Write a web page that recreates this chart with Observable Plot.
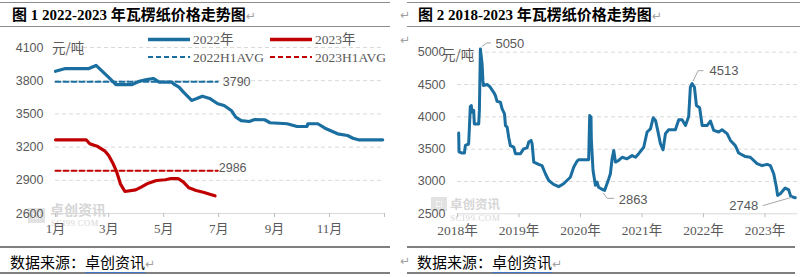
<!DOCTYPE html>
<html><head><meta charset="utf-8">
<script src="https://cdn.jsdelivr.net/npm/d3@7"></script>
<script src="https://cdn.jsdelivr.net/npm/@observablehq/plot@0.6"></script>
<style>
html,body{margin:0;padding:0;background:#fff;}
#page{position:relative;width:800px;height:277px;overflow:hidden;font-family:"Liberation Serif","Noto Sans CJK SC",serif;color:#595959;}
.a{position:absolute;white-space:nowrap;line-height:1;}
.hr{position:absolute;height:0;}
.title{font-size:15px;font-weight:bold;color:#000;}
.foot{font-size:15px;color:#000;font-family:"Noto Sans CJK SC",sans-serif;}
.foot u{text-decoration:none;border-bottom:1px solid #4472c4;}
.pm{color:#a0a0a0;font-size:12px;font-weight:normal;font-family:"DejaVu Sans",sans-serif;}
.unit{font-size:13.5px;color:#595959;font-family:"Noto Sans CJK SC",sans-serif;}
.wm{color:#d6d6d6;font-family:"Noto Sans CJK SC",sans-serif;font-weight:bold;}
.wms{color:#d6d6d6;font-family:"Liberation Serif",serif;letter-spacing:0.5px;}
.icon{position:absolute;background:#e2e2e2;}
.icon i{position:absolute;left:30%;top:30%;width:40%;height:40%;border:1px dotted #fff;box-sizing:border-box;}
svg{position:absolute;}
</style></head><body><div id="page"></div>
<script>
// ---------------- DATA ----------------
// Figure 1: 2022 vs 2023 (month-day)
const dates22 = ["01-01","01-12","02-07","02-15","03-01","03-09","03-27","04-04","04-12","04-18","04-20","04-26","05-10","05-12","05-18","05-23","06-01","06-06","06-13","06-21","06-30","07-07","07-15","07-20","07-26","08-04","08-10","08-21","08-27","09-15","09-26","10-07","10-08","10-19","10-27","11-10","11-21","11-27","12-03","12-30"];
const values22 = [3885,3910,3910,3938,3830,3765,3765,3795,3810,3818,3818,3788,3788,3772,3742,3697,3622,3636,3660,3640,3592,3576,3531,3470,3440,3431,3449,3447,3420,3411,3386,3386,3411,3411,3371,3320,3305,3280,3266,3266];
const dates23 = ["01-01","02-04","02-08","02-17","02-25","03-01","03-06","03-10","03-14","03-19","03-31","04-06","04-14","04-23","05-03","05-09","05-17","05-23","05-29","06-06","06-14","06-22","06-27"];
const values23 = [3266,3266,3230,3205,3163,3124,3049,2973,2868,2799,2814,2838,2874,2898,2905,2916,2916,2883,2832,2808,2792,2772,2760];
const avgNames = ["2022H1AVG","2023H1AVG"];
const avgValues = [3790, 2986];
const avgSpan = ["01-01","06-30"];
const seriesNames = ["2022年","2023年"];
const yTicksL = [2600,2900,3200,3500,3800,4100];
const monthTicks = ["01-01","03-01","05-01","07-01","09-01","11-01"];
const monthLabels = ["1月","3月","5月","7月","9月","11月"];

// Figure 2: 2018-2023
const dates18 = [
"2018-01-08","2018-01-10","2018-01-28","2018-02-11","2018-02-17","2018-03-08","2018-03-12","2018-03-18","2018-03-24","2018-03-28","2018-04-07","2018-04-11","2018-05-07","2018-05-11","2018-05-17","2018-05-27","2018-06-01","2018-06-04","2018-06-26","2018-07-11","2018-08-04","2018-08-14","2018-08-24","2018-09-13","2018-09-23","2018-10-07","2018-10-13","2018-10-23","2018-11-01","2018-11-11","2018-12-01","2018-12-11",
"2019-01-10","2019-01-29","2019-02-18","2019-02-28","2019-03-14","2019-03-20","2019-03-30","2019-04-28","2019-05-18","2019-06-07","2019-06-27","2019-07-26","2019-08-25","2019-09-23","2019-10-13","2019-11-02","2019-11-22","2019-12-12","2019-12-21",
"2020-02-19","2020-02-25","2020-03-04","2020-03-06","2020-03-16","2020-03-30","2020-04-09","2020-04-18","2020-05-08","2020-05-24","2020-06-17","2020-06-27","2020-07-07","2020-07-17","2020-07-27","2020-08-15","2020-09-05","2020-10-04","2020-11-03","2020-11-23","2020-12-12",
"2021-01-11","2021-01-31","2021-02-20","2021-03-08","2021-03-22","2021-04-04","2021-04-20","2021-05-06","2021-05-20","2021-06-08","2021-07-18","2021-08-07","2021-08-27","2021-09-16","2021-10-05","2021-10-15","2021-10-25","2021-11-08","2021-11-20","2021-12-09","2021-12-24",
"2022-01-22","2022-02-11","2022-03-03","2022-04-01","2022-04-21","2022-05-21","2022-06-10","2022-07-09","2022-07-29","2022-09-07","2022-10-06","2022-11-15","2022-12-15",
"2023-01-14","2023-02-02","2023-02-22","2023-03-10","2023-03-17","2023-04-02","2023-05-01","2023-05-22","2023-06-03","2023-06-30"];
const values18 = [3750,3460,3440,3440,3560,3580,3790,4160,4175,4070,4100,3890,3890,4100,5050,4820,4560,4485,4500,4470,4380,4330,4240,4225,4125,4045,3865,3840,3685,3555,3530,3430,
3430,3505,3520,3610,3635,3585,3300,3265,3245,3120,3015,2955,2920,2965,3015,3065,3220,3315,3335,
3335,4020,3995,3635,3170,2940,2990,2910,2880,2863,3040,3120,3350,3480,3300,3325,3375,3350,3400,3375,3430,
3530,3765,3815,3985,3945,3790,3585,3490,3740,3800,3800,3955,3955,3865,4005,4460,4513,4460,4175,4140,3865,
3865,3935,3790,3765,3800,3740,3635,3555,3440,3385,3375,3275,3245,
3265,3245,3120,2910,2785,2810,2900,2870,2770,2748];
const annoLabels = [5050, 4513, 2863, 2748];
const yTicksR = [2500,3000,3500,4000,4500,5000];
const yearTicks = ["2018-01-01","2019-01-01","2020-01-01","2021-01-01","2022-01-01","2023-01-01"];
const yearLabels = ["2018年","2019年","2020年","2021年","2022年","2023年"];
const xDomainR = ["2018-01-01","2023-07-15"];

// ---------------- STYLE ----------------
const SERIF = '"Liberation Serif","Noto Sans CJK SC",serif';
const SANS = '"Liberation Sans","Noto Sans CJK SC",sans-serif';
const BLUE = "#1b6fa0", RED = "#c00000", GRID = "#d9d9d9", TXT = "#595959";
const num = d => String(d);

const page = document.getElementById("page");
function addDiv(cls, html, css){const d=document.createElement("div");d.className=cls;d.innerHTML=html;Object.assign(d.style,css);page.appendChild(d);return d;}

// rules
[[0,390],[407,800]].forEach(([x0,x1])=>{
  addDiv("hr","",{left:x0+"px",width:(x1-x0)+"px",top:"2px",borderTop:"1.5px solid #8c8c8c"});
  addDiv("hr","",{left:x0+"px",width:(x1-x0)+"px",top:"26px",borderTop:"1.5px solid #8c8c8c"});
  addDiv("hr","",{left:x0+"px",width:(Math.min(x1,795)-x0)+"px",top:"246px",borderTop:"2px solid #7f7f7f"});
  addDiv("hr","",{left:x0+"px",width:(Math.min(x1,795)-x0)+"px",top:"272px",borderTop:"2px solid #7f7f7f"});
});
// titles & footers
addDiv("a title","图 1 2022-2023 年瓦楞纸价格走势图<span class='pm'>↵</span>",{left:"12px",top:"8px"});
addDiv("a title","图 2 2018-2023 年瓦楞纸价格走势图<span class='pm'>↵</span>",{left:"418px",top:"8px"});
addDiv("a foot","数据来源：<u>卓创资讯</u><span class='pm'>↵</span>",{left:"10px",top:"254px"});
addDiv("a foot","数据来源：<u>卓创资讯</u><span class='pm'>↵</span>",{left:"417px",top:"254px"});
addDiv("a pm","↵",{left:"400px",top:"9px"});
addDiv("a pm","↵",{left:"400px",top:"34px"});
addDiv("a pm","↵",{left:"400px",top:"255px"});
// watermarks (behind charts)
addDiv("icon","<i></i>",{left:"28px",top:"208px",width:"17px",height:"15px"});
addDiv("a wm","卓创资讯",{left:"50px",top:"202px",fontSize:"14px"});
addDiv("a wms","SCI99.COM",{left:"51px",top:"219px",fontSize:"8.5px"});
addDiv("icon","<i></i>",{left:"431px",top:"197px",width:"16px",height:"14px"});
addDiv("a wm","卓创资讯",{left:"450px",top:"198px",fontSize:"12.5px"});
addDiv("a wms","SCI99.COM",{left:"450px",top:"214px",fontSize:"9px"});

// ---------------- LEFT CHART ----------------
const parseD = d3.utcParse("%Y-%m-%d");
const md = s => parseD("2022-" + s);
const d22 = dates22.map((d,i)=>({date: md(d), value: values22[i]}));
const d23 = dates23.map((d,i)=>({date: md(d), value: values23[i]}));
const avgLines = avgNames.map((n,i)=>avgSpan.map(s=>({name:n, date: md(s), value: avgValues[i]})));
const mLabel = new Map(monthTicks.map((m,i)=>[+md(m), monthLabels[i]]));
const leftTicks = monthTicks.map(md).concat([parseD("2023-01-01")]);

const left = Plot.plot({
  width: 390, height: 218,
  marginLeft: 55, marginRight: 6, marginTop: 19, marginBottom: 33,
  style: {fontFamily: SERIF, fontSize: "13px", color: TXT, background: "transparent", overflow: "visible"},
  x: {type: "utc", domain: [parseD("2022-01-01"), parseD("2023-01-01")], label: null},
  y: {domain: [yTicksL[0], yTicksL[yTicksL.length-1]], label: null},
  marks: [
    Plot.gridY({ticks: yTicksL.slice(1), stroke: GRID, strokeOpacity: 1, strokeDasharray: "4,3"}),
    Plot.ruleY([yTicksL[0]], {stroke: GRID}),
    Plot.axisY({ticks: yTicksL, tickFormat: num, tickSize: 0, tickPadding: 12, fontFamily: SANS, fontSize: 12.5, fill: TXT, label: null}),
    Plot.axisX({ticks: leftTicks, tickSize: 4, tickPadding: 6, stroke: "#bfbfbf", fill: TXT, fontSize: 13, label: null,
      tickFormat: d => mLabel.get(+d) ?? ""}),
    Plot.line(d22, {x: "date", y: "value", stroke: BLUE, strokeWidth: 3.2, strokeLinejoin: "round"}),
    Plot.line(avgLines[0], {x: "date", y: "value", stroke: BLUE, strokeWidth: 2, strokeDasharray: "5,3"}),
    Plot.line(d23, {x: "date", y: "value", stroke: RED, strokeWidth: 3.2, strokeLinejoin: "round"}),
    Plot.line(avgLines[1], {x: "date", y: "value", stroke: RED, strokeWidth: 2, strokeDasharray: "5,3"}),
    Plot.text([avgLines[0][1]], {x: "date", y: "value", text: d => String(d.value), textAnchor: "start", dx: 5, fontFamily: SANS, fontSize: 12.5, fill: TXT}),
    Plot.text([avgLines[1][1]], {x: "date", y: "value", text: d => String(d.value), textAnchor: "start", dx: 1, dy: -3, fontFamily: SANS, fontSize: 12.5, fill: TXT})
  ]
});
left.style.left = "0px"; left.style.top = "28px";
page.appendChild(left);
addDiv("a unit","元/吨",{left:"52px",top:"41px"});

// legend (left chart)
const leg = d3.select(page).append("svg").attr("width",390).attr("height",70).style("left","0px").style("top","0px");
const legItems = [
  {name: seriesNames[0], color: BLUE, dash: null, x: 148, y: 39.5},
  {name: seriesNames[1], color: RED, dash: null, x: 270, y: 39.5},
  {name: avgNames[0], color: BLUE, dash: "5,3", x: 148, y: 57},
  {name: avgNames[1], color: RED, dash: "5,3", x: 270, y: 57}
];
legItems.forEach(it=>{
  leg.append("line").attr("x1",it.x).attr("x2",it.x+42).attr("y1",it.y).attr("y2",it.y)
    .attr("stroke",it.color).attr("stroke-width",it.dash?2:3.5).attr("stroke-dasharray",it.dash);
  leg.append("text").attr("x",it.x+45).attr("y",it.y).attr("dy","0.35em").attr("fill",TXT)
    .style("font-family",SERIF).style("font-size","13.5px").text(it.name);
});

// ---------------- RIGHT CHART ----------------
const d18 = dates18.map((d,i)=>({date: parseD(d), value: values18[i]}));
const yLabel = new Map(yearTicks.map((y,i)=>[+parseD(y), yearLabels[i]]));
const annoData = annoLabels.map(v => d18.find(d => d.value === v));
const annoStyle = [
  {dx: 15, dy: -5.5, anchor: "start", leader: [[2,-2],[7,-5.5],[11,-5.5]]},
  {dx: 17.5, dy: -12.5, anchor: "start", leader: [[1.5,-2],[6.5,-12.5],[12,-12.5]]},
  {dx: 14, dy: 9, anchor: "start", leader: [[-1,3],[3,8.5],[10,8.5]]},
  {dx: -37, dy: 8.4, anchor: "end", leader: [[-3,0],[-32,8.4]]}
];
const right = Plot.plot({
  width: 400, height: 218,
  marginLeft: 57, marginRight: 2.7, marginTop: 23.7, marginBottom: 32.7,
  style: {fontFamily: SERIF, fontSize: "13px", color: TXT, background: "transparent", overflow: "visible"},
  x: {type: "utc", domain: xDomainR.map(parseD), label: null},
  y: {domain: [yTicksR[0], yTicksR[yTicksR.length-1]], label: null},
  marks: [
    Plot.gridY({ticks: yTicksR.slice(1), stroke: GRID, strokeOpacity: 1, strokeDasharray: "4,3"}),
    Plot.ruleY([yTicksR[0]], {stroke: GRID}),
    Plot.axisY({ticks: yTicksR, tickFormat: num, tickSize: 0, tickPadding: 12, fontFamily: SANS, fontSize: 12.5, fill: TXT, label: null}),
    Plot.axisX({ticks: yearTicks.map(parseD), tickSize: 4, tickPadding: 8, stroke: "#bfbfbf", fill: TXT, fontSize: 13.5, label: null,
      tickFormat: d => yLabel.get(+d) ?? ""}),
    Plot.line(d18, {x: "date", y: "value", stroke: BLUE, strokeWidth: 3, strokeLinejoin: "round"}),
    ...annoData.map((d,i)=>Plot.text([d], {x: "date", y: "value", text: d => String(d.value),
      dx: annoStyle[i].dx, dy: annoStyle[i].dy, textAnchor: annoStyle[i].anchor, fontFamily: SANS, fontSize: 13, fill: TXT}))
  ]
});
right.style.left = "400px"; right.style.top = "28px";
page.appendChild(right);
{
  const xs = right.scale("x"), ys = right.scale("y");
  const g = d3.select(right).append("g").attr("fill","none").attr("stroke","#a6a6a6").attr("stroke-width",1);
  annoData.forEach((d,i)=>{
    const px = xs.apply(d.date), py = ys.apply(d.value);
    g.append("polyline").attr("points", annoStyle[i].leader.map(([ox,oy])=>`${px+ox},${py+oy}`).join(" "));
  });
}
addDiv("a unit","元/吨",{left:"442px",top:"48px"});
</script></body></html>
